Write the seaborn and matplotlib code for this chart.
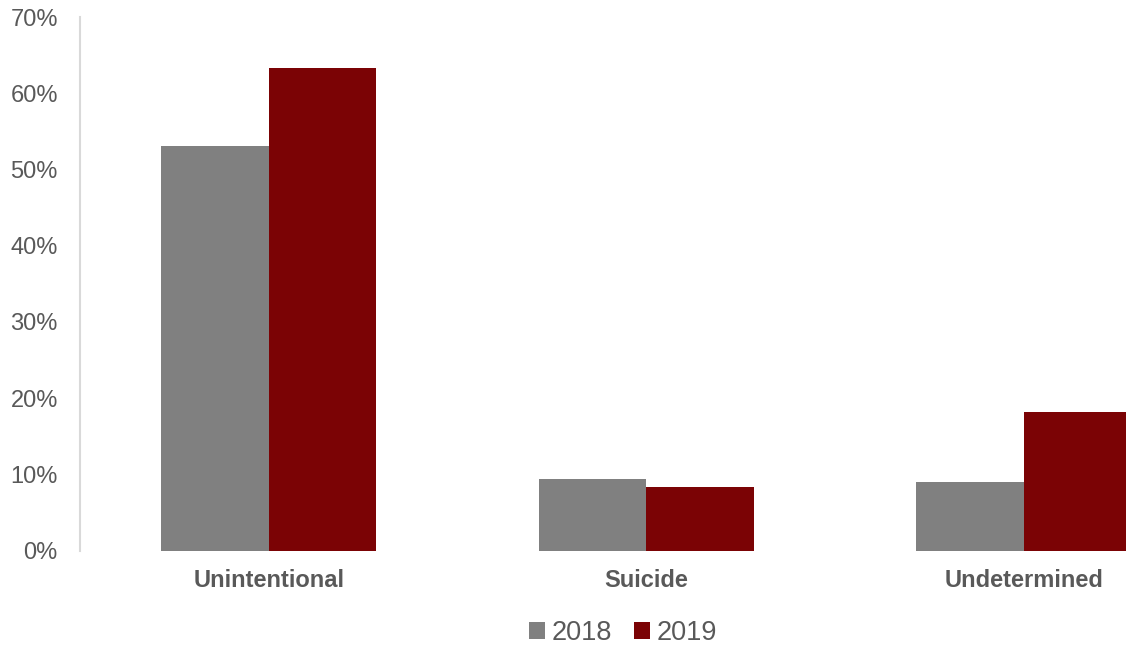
import matplotlib
matplotlib.use("Agg")
import matplotlib.pyplot as plt
import seaborn as sns
import pandas as pd
from matplotlib.patches import Patch

categories = ["Unintentional", "Suicide", "Undetermined"]
years = ["2018", "2019"]
values_2018 = [53.1, 9.4, 9.0]
values_2019 = [63.3, 8.3, 18.2]
y_ticks = [0, 10, 20, 30, 40, 50, 60, 70]
colors = {"2018": "#808080", "2019": "#7B0305"}

df = pd.DataFrame({
    "category": categories * 2,
    "year": [years[0]] * 3 + [years[1]] * 3,
    "value": values_2018 + values_2019,
})

sns.set_theme(style="white")
plt.rcParams["font.family"] = ["Liberation Sans", "DejaVu Sans"]

fig = plt.figure(figsize=(11.26, 6.48), dpi=100)
ax = fig.add_axes([80 / 1126, 1 - 550.7 / 648, 1 - 80 / 1126, (550.7 - 17) / 648])

sns.barplot(data=df, x="category", y="value", hue="year", order=categories,
            hue_order=years, palette=colors, width=0.57, saturation=1,
            edgecolor="none", linewidth=0, legend=False, ax=ax)

ax.set_xlim(-0.5, 2.27)
ax.set_ylim(0, 70)
ax.set_yticks(y_ticks)
ax.set_yticklabels([f"{t}%" for t in y_ticks])
ax.set_xlabel("")
ax.set_ylabel("")
ax.tick_params(axis="y", length=0, pad=16, labelsize=17, labelcolor="#595959")
ax.tick_params(axis="x", length=0, pad=13, labelsize=17, labelcolor="#595959")
for lbl in ax.get_xticklabels():
    lbl.set_fontweight("bold")

for side in ["top", "right", "bottom"]:
    ax.spines[side].set_visible(False)
ax.spines["left"].set_color("#D9D9D9")
ax.spines["left"].set_linewidth(1.5)
ax.grid(False)

handles = [Patch(facecolor=colors[y], edgecolor="none", label=y) for y in years]
fig.legend(handles=handles, loc="center", bbox_to_anchor=(623 / 1126, 1 - 633 / 648),
           ncol=2, frameon=False, fontsize=19.5, labelcolor="#595959",
           handlelength=0.6, handleheight=0.6, handletextpad=0.25, columnspacing=0.8)

fig.savefig("out.png", dpi=100)
